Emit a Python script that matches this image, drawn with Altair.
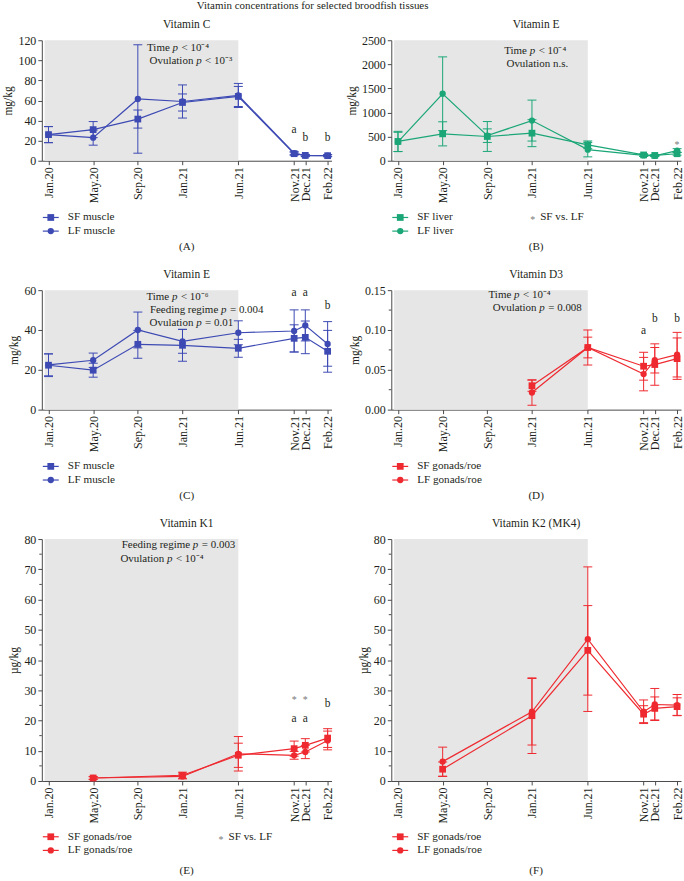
import altair as alt
import pandas as pd

FONT = "Liberation Serif"
TXT = "#231f20"
AXC = "#4a4a4a"
SHADE = "#e6e6e6"
STARC = "#7a7a7a"
BLUE = "#3d4ab3"
GREEN = "#1aa677"
RED = "#ee2a30"

# ---------------- data ----------------
month_labels = ["Jan.20", "May.20", "Sep.20", "Jan.21", "Jun.21", "Nov.21", "Dec.21", "Feb.22"]
month_pos = [0, 4, 8, 12, 17, 22, 23, 25]          # months since Jan.20
shade_period = [-0.35, 17]                          # grey period up to Jun.21
x_domain = [-0.6, 25.35]

# (A) Vitamin C, muscle
vitc_sf = [26, 31, 41.5, 58, 64, 7, 5.3, 5]
vitc_sf_sd = [8, 8, 9, 8.5, 10, 1.5, 1, 1]
vitc_lf = [26, 23, 61.5, 59, 65, 7.5, 5, 5]
vitc_lf_sd = [8, 7.5, 54, 16.5, 12, 1.5, 1, 1]

# (B) Vitamin E, liver
liv_e_sf = [400, 558, 503, 572, 330, 120, 110, 145]
liv_e_sf_sd = [210, 250, 310, 280, 80, 25, 20, 30]
liv_e_lf = [390, 1390, 520, 833, 230, 110, 100, 210]
liv_e_lf_sd = [200, 765, 141, 425, 150, 20, 15, 40]

# (C) Vitamin E, muscle
mus_e_sf = [22.3, 19.8, 32.8, 32.3, 30.8, 35.8, 36.3, 29.3]
mus_e_sf_sd = [5.7, 3.5, 7.0, 8.0, 4.5, 6.8, 8.2, 10.5]
mus_e_lf = [22.5, 24.8, 40.0, 34.3, 38.6, 39.5, 42.3, 33.0]
mus_e_lf_sd = [5.5, 3.6, 9.0, 6.0, 6.0, 10.6, 7.8, 11.2]

# (D) Vitamin D3, gonads/roe
d3_sf = [None, None, None, 0.030, 0.078, 0.0545, 0.0566, 0.064]
d3_sf_sd = [None, None, None, 0.007, 0.022, 0.0175, 0.026, 0.026]
d3_lf = [None, None, None, 0.0215, 0.078, 0.0446, 0.062, 0.069]
d3_lf_sd = [None, None, None, 0.016, 0.013, 0.021, 0.016, 0.028]

# (E) Vitamin K1, gonads/roe
k1_sf = [None, 1.0, None, 1.9, 8.5, 10.7, 11.8, 14.2]
k1_sf_sd = [None, 0.5, None, 1.0, 4.0, 2.5, 2.2, 3.1]
k1_lf = [None, 1.0, None, 1.5, 9.0, 8.5, 9.6, 13.4]
k1_lf_sd = [None, 0.4, None, 0.8, 5.7, 1.3, 2.2, 3.1]

# (F) Vitamin K2 (MK4), gonads/roe
k2_sf = [None, 3.9, None, 21.6, 43.2, 22.1, 24.0, 24.6]
k2_sf_sd = [None, 2.4, None, 12.5, 14.8, 2.8, 3.8, 2.9]
k2_lf = [None, 6.4, None, 22.9, 46.9, 22.9, 25.3, 25.1]
k2_lf_sd = [None, 4.8, None, 11.0, 23.9, 3.9, 5.3, 3.5]

# y-axis ticks
yt_a = [0, 20, 40, 60, 80, 100, 120]
yt_b = [0, 500, 1000, 1500, 2000, 2500]
yt_c = [0, 20, 40, 60]
yt_d = [0, 0.05, 0.10, 0.15]
yt_d_minor = [0.025, 0.075, 0.125]
yt_k = [0, 10, 20, 30, 40, 50, 60, 70, 80]
yt_k_minor = [5, 15, 25, 35, 45, 55, 65, 75]

# significance letters (month, value, text)
let_a_m, let_a_v, let_a_t = [22, 23, 25], [30.7, 22.8, 22.8], ["a", "b", "b"]
let_c_m, let_c_v, let_c_t = [22, 23, 25], [58.5, 58.5, 52], ["a", "a", "b"]
let_d_m, let_d_v, let_d_t = [22, 23, 25], [0.099, 0.114, 0.114], ["a", "b", "b"]
let_e_m, let_e_v, let_e_t = [22, 23, 25], [20.5, 20.5, 25.3], ["a", "a", "b"]
star_b_m, star_b_v = [25], [390]
star_e_m, star_e_v = [22, 23], [27.7, 27.7]

W = 291
LABEL_EXPR = ("[" + ",".join("'%s'" % s for s in month_labels) + "][indexof(["
              + ",".join(str(m) for m in month_pos) + "], datum.value)]")
ONE = pd.DataFrame({"k": [0]})
ANN_SIZE = 11
LEG_SIZE = 11.2


def series_frame(sf, sf_sd, lf, lf_sd):
    rows = []
    for name, vals, sds in (("SF", sf, sf_sd), ("LF", lf, lf_sd)):
        for m, v, s in zip(month_pos, vals, sds):
            if v is None:
                continue
            rows.append({"series": name, "m": m, "v": v, "lo": v - s, "hi": v + s})
    return pd.DataFrame(rows)


def text_mark(s, x, y, size=11, align="left", color=TXT, italic=False):
    kw = dict(text=s, align=align, baseline="middle", font=FONT, fontSize=size, color=color,
              fontWeight="normal")
    if italic:
        kw["fontStyle"] = "italic"
    return alt.Chart(ONE).mark_text(**kw).encode(x=alt.value(x), y=alt.value(y))


def panel(data, color, yticks, ytitle, h, title, labels, caption, cap_off,
          yfmt=None, yminor=None, letters=None, stars=None, ann=(), star_legend=None,
          leg_off=57, extra=()):
    xs = alt.Scale(domain=x_domain, nice=False, zero=False)
    ys = alt.Scale(domain=[yticks[0], yticks[-1]], nice=False, zero=False)
    xax = alt.Axis(values=month_pos, labelExpr=LABEL_EXPR, labelAngle=-90,
                   labelOverlap=False, labelFlush=False, title=None)
    yax = alt.Axis(values=yticks, title=ytitle, labelOverlap=False, format=yfmt)

    def X(f):
        return alt.X(f, type="quantitative", scale=xs, axis=xax)

    def Y(f):
        return alt.Y(f, type="quantitative", scale=ys, axis=yax)

    df = series_frame(*data)
    base = alt.Chart(df)
    layers = [
        alt.Chart(pd.DataFrame({"s": [shade_period[0]], "e": [shade_period[1]]}))
        .mark_rect(color=SHADE)
        .encode(x=X("s"), x2="e", y=alt.value(0), y2=alt.value(h))
    ]
    if yminor:
        layers.append(alt.Chart(pd.DataFrame({"t": yminor})).mark_rule(color=AXC, strokeWidth=1)
                      .encode(y=Y("t"), x=alt.value(-2.5), x2=alt.value(0)))
    layers += [
        base.mark_rule(color=color, strokeWidth=1).encode(x=X("m"), y=Y("lo"), y2="hi"),
        base.mark_tick(color=color, orient="horizontal", size=9, thickness=1, opacity=1)
        .encode(x=X("m"), y=Y("lo")),
        base.mark_tick(color=color, orient="horizontal", size=9, thickness=1, opacity=1)
        .encode(x=X("m"), y=Y("hi")),
        base.mark_line(color=color, strokeWidth=1.2).encode(x=X("m"), y=Y("v"), detail="series:N"),
        base.transform_filter("datum.series == 'SF'")
        .mark_point(shape="square", filled=True, opacity=1, size=46, color=color)
        .encode(x=X("m"), y=Y("v")),
        base.transform_filter("datum.series == 'LF'")
        .mark_point(shape="circle", filled=True, opacity=1, size=40, color=color)
        .encode(x=X("m"), y=Y("v")),
    ]
    if letters:
        ld = pd.DataFrame({"m": letters[0], "v": letters[1], "t": letters[2]})
        layers.append(alt.Chart(ld).mark_text(font=FONT, fontSize=11.5, color=TXT, baseline="middle")
                      .encode(x=X("m"), y=Y("v"), text="t:N"))
    if stars:
        sd = pd.DataFrame({"m": stars[0], "v": stars[1]})
        layers.append(alt.Chart(sd).mark_text(text="*", font=FONT, fontSize=10, color=STARC,
                                              baseline="middle", dy=3)
                      .encode(x=X("m"), y=Y("v")))
    # statistics annotation
    for a in ann:
        if "plain" in a:
            layers.append(text_mark(a["plain"], a["x"], a["y"], size=ANN_SIZE))
        else:
            layers.append(text_mark(a["pre"], a["px"] - 2.8, a["y"], size=ANN_SIZE, align="right"))
            layers.append(text_mark("p", a["px"], a["y"], size=ANN_SIZE, italic=True))
            layers.append(text_mark(a["suf"], a["px"] + 9, a["y"], size=ANN_SIZE))
    # legend
    for i, (lab, shp) in enumerate(zip(labels, ["square", "circle"])):
        yy = h + leg_off + i * 13.7
        layers.append(alt.Chart(ONE).mark_rule(color=color, strokeWidth=1.2)
                      .encode(x=alt.value(1), x2=alt.value(17), y=alt.value(yy)))
        layers.append(alt.Chart(ONE).mark_point(shape=shp, filled=True, opacity=1,
                                                size=46 if shp == "square" else 40, color=color)
                      .encode(x=alt.value(9), y=alt.value(yy)))
        layers.append(text_mark(lab, 26, yy, size=LEG_SIZE))
    if star_legend is not None:
        yy = h + leg_off
        layers.append(alt.Chart(ONE).mark_text(text="*", font=FONT, fontSize=10, color=STARC,
                                               baseline="middle", dy=3)
                      .encode(x=alt.value(star_legend), y=alt.value(yy)))
        layers.append(text_mark("SF vs. LF", star_legend + 7.5, yy, size=LEG_SIZE))
    layers.append(text_mark(caption, W / 2, h + cap_off, size=LEG_SIZE, align="center"))
    layers.append(text_mark(title, W / 2, -15, size=11.5, align="center"))
    layers += list(extra)
    return alt.layer(*layers).properties(width=W, height=h)


H1, H2, H3 = 121, 120, 243

pA = panel((vitc_sf, vitc_sf_sd, vitc_lf, vitc_lf_sd), BLUE, yt_a, "mg/kg", H1, "Vitamin C",
           ["SF muscle", "LF muscle"], "(A)", 87, yfmt="d",
           letters=(let_a_m, let_a_v, let_a_t),
           ann=[{"pre": "Time", "suf": "< 10⁻⁴", "px": 131.3, "y": 7.3},
                {"pre": "Ovulation", "suf": "< 10⁻³", "px": 155, "y": 20.7}],
           extra=[text_mark("Vitamin concentrations for selected broodfish tissues", 272, -34,
                            size=11, align="center")])

pB = panel((liv_e_sf, liv_e_sf_sd, liv_e_lf, liv_e_lf_sd), GREEN, yt_b, "mg/kg", H1, "Vitamin E",
           ["SF liver", "LF liver"], "(B)", 87, yfmt="d",
           stars=(star_b_m, star_b_v),
           ann=[{"pre": "Time", "suf": "< 10⁻⁴", "px": 139, "y": 11},
                {"plain": "Ovulation n.s.", "x": 115.7, "y": 23.5}],
           star_legend=142)

pC = panel((mus_e_sf, mus_e_sf_sd, mus_e_lf, mus_e_lf_sd), BLUE, yt_c, "mg/kg", H2, "Vitamin E",
           ["SF muscle", "LF muscle"], "(C)", 87, yfmt="d",
           letters=(let_c_m, let_c_v, let_c_t),
           ann=[{"pre": "Time", "suf": "< 10⁻⁶", "px": 130.7, "y": 6.7},
                {"pre": "Feeding regime", "suf": "= 0.004", "px": 180, "y": 20},
                {"pre": "Ovulation", "suf": "= 0.01", "px": 155, "y": 33.3}])

pD = panel((d3_sf, d3_sf_sd, d3_lf, d3_lf_sd), RED, yt_d, "mg/kg", H2, "Vitamin D3",
           ["SF gonads/roe", "LF gonads/roe"], "(D)", 87, yfmt=".2f", yminor=yt_d_minor,
           letters=(let_d_m, let_d_v, let_d_t),
           ann=[{"pre": "Time", "suf": "< 10⁻⁴", "px": 123.3, "y": 5},
                {"pre": "Ovulation", "suf": "= 0.008", "px": 148.7, "y": 18.3}])

pE = panel((k1_sf, k1_sf_sd, k1_lf, k1_lf_sd), RED, yt_k, "µg/kg", H3, "Vitamin K1",
           ["SF gonads/roe", "LF gonads/roe"], "(E)", 90, yfmt="d", yminor=yt_k_minor,
           letters=(let_e_m, let_e_v, let_e_t), stars=(star_e_m, star_e_v),
           ann=[{"pre": "Feeding regime", "suf": "= 0.003", "px": 151.7, "y": 6.3},
                {"pre": "Ovulation", "suf": "< 10⁻⁴", "px": 125.7, "y": 20.3}],
           star_legend=180, leg_off=56)

pF = panel((k2_sf, k2_sf_sd, k2_lf, k2_lf_sd), RED, yt_k, "µg/kg", H3, "Vitamin K2 (MK4)",
           ["SF gonads/roe", "LF gonads/roe"], "(F)", 90, yfmt="d", yminor=yt_k_minor, leg_off=56)

chart = (
    alt.concat(pA, pB, pC, pD, pE, pF, columns=2,
               spacing={"row": 130, "column": 60}, bounds="flush")
    .properties(padding={"left": 3, "top": -1.5, "right": 0, "bottom": 0})
    .configure(font=FONT)
    .configure_view(stroke=None)
    .configure_axis(labelFont=FONT, labelFontSize=12, labelColor=TXT,
                    titleFont=FONT, titleFontSize=11.5, titleFontWeight="normal", titleColor=TXT,
                    tickColor=AXC, domainColor=AXC, tickSize=4, tickWidth=1, domainWidth=1,
                    labelPadding=2, titlePadding=4, grid=False)
)

chart.save("out.html", embed_options={"renderer": "svg", "actions": False})
